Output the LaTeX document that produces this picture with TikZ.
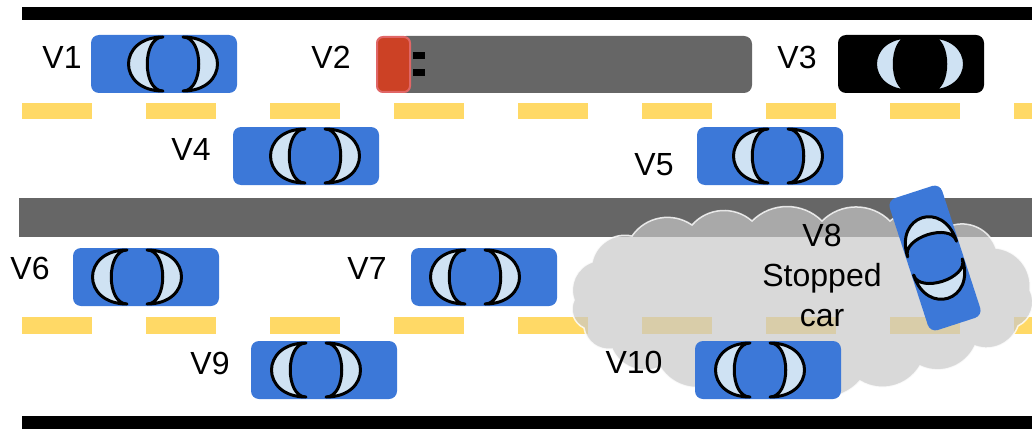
\documentclass[tikz,border=0pt]{standalone}
\usepackage{fontspec}
\setmainfont{Liberation Sans}

\definecolor{carblue}{HTML}{3C78D8}
\definecolor{glass}{HTML}{CFE2F3}
\definecolor{lanegold}{HTML}{FFD966}
\definecolor{asphalt}{HTML}{666666}
\definecolor{cabred}{HTML}{CC4125}
\definecolor{cabedge}{HTML}{E06666}
\definecolor{smokegrey}{HTML}{C8C8C8}

\tikzset{
  curb/.style={fill=black},
  lanedash/.style={fill=lanegold},
  windshield/.style={fill=glass, draw=black, line width=3pt, line join=round},
  vlabel/.style={font=\fontsize{32}{40}\selectfont, inner sep=0pt, text=black},
  smoke/.style={fill=smokegrey, fill opacity=0.69, draw=white, draw opacity=0.8, line width=1.5pt},
  % a car seen from above: #1 shifts the pair of windows, #2 is the body colour
  pics/car/.style 2 args={code={
    \fill[fill=#2, rounded corners=8pt] (-73,-29) rectangle (73,29);
    \path[windshield] ({#1-10},-27) .. controls ({#1-56},-27) and ({#1-56},27) .. ({#1-10},27)
      .. controls ({#1-31},27) and ({#1-31},-27) .. cycle;
    \path[windshield] ({#1+10},-27) .. controls ({#1+56},-27) and ({#1+56},27) .. ({#1+10},27)
      .. controls ({#1+31},27) and ({#1+31},-27) .. cycle;
  }},
}

\begin{document}
\begin{tikzpicture}[x=1pt, y=-1pt]
\useasboundingbox (0,0) rectangle (1032,433);

% road edges and median
\fill[curb] (22,7) rectangle (1032,20);
\fill[curb] (22,416) rectangle (1032,429);
\fill[asphalt] (19,198) rectangle (1032,237);

% lane markings
\foreach \k in {0,...,8} {
  \fill[lanedash] ({22+124*\k},103) rectangle ++(70,16);
  \fill[lanedash] ({22+124*\k},317) rectangle ++(70,17);
}

% upper carriageway
\pic at (164,64) {car={9}{carblue}};
\node[vlabel] (v1) at (62,57) {V1};

\fill[asphalt, rounded corners=8pt] (398,36) rectangle (752,93);
\draw[fill=cabred, draw=cabedge, line width=2pt, rounded corners=6pt] (377,37) rectangle (410,92);
\fill (413,52) rectangle (425,59);
\fill (413,69) rectangle (425,76);
\node[vlabel] (v2) at (331,57) {V2};

\pic at (911,64) {car={9}{black}};
\node[vlabel] (v3) at (797,57) {V3};

\pic at (306,156) {car={9}{carblue}};
\node[vlabel] (v4) at (191,149) {V4};

\pic at (770,156) {car={8}{carblue}};
\node[vlabel] (v5) at (654,165) {V5};

% lower carriageway
\pic at (146,277) {car={-9}{carblue}};
\node[vlabel] (v6) at (30,268) {V6};

\pic at (484,277) {car={-9}{carblue}};
\node[vlabel] (v7) at (367,268) {V7};

\pic at (324,370) {car={-8}{carblue}};
\node[vlabel] (v9) at (210,363) {V9};

% hazard area around the stopped car
\path[smoke] (574,300)
  to[bend left=45] (592,262) to[bend left=45] (632,236) to[bend left=45] (692,225)
  to[bend left=45] (752,221) to[bend left=45] (822,221) to[bend left=45] (890,221)
  to[bend left=45] (950,226) to[bend left=45] (996,248) to[bend left=45] (1030,290)
  to[bend left=45] (1018,326) to[bend left=45] (975,346) to[bend left=45] (920,366)
  to[bend left=45] (860,381) to[bend left=45] (790,385) to[bend left=45] (720,381)
  to[bend left=45] (660,367) to[bend left=45] (612,349) to[bend left=45] (584,328)
  to[bend left=45] cycle;

\pic at (768,370) {car={-8}{carblue}};
\node[vlabel] (v10) at (634,362) {V10};

\pic[rotate=-72, scale=0.95] at (935,258) {car={0}{carblue}};
\node[vlabel, align=center] (v8) at (822,275) {V8\\Stopped\\car};

\end{tikzpicture}
\end{document}
